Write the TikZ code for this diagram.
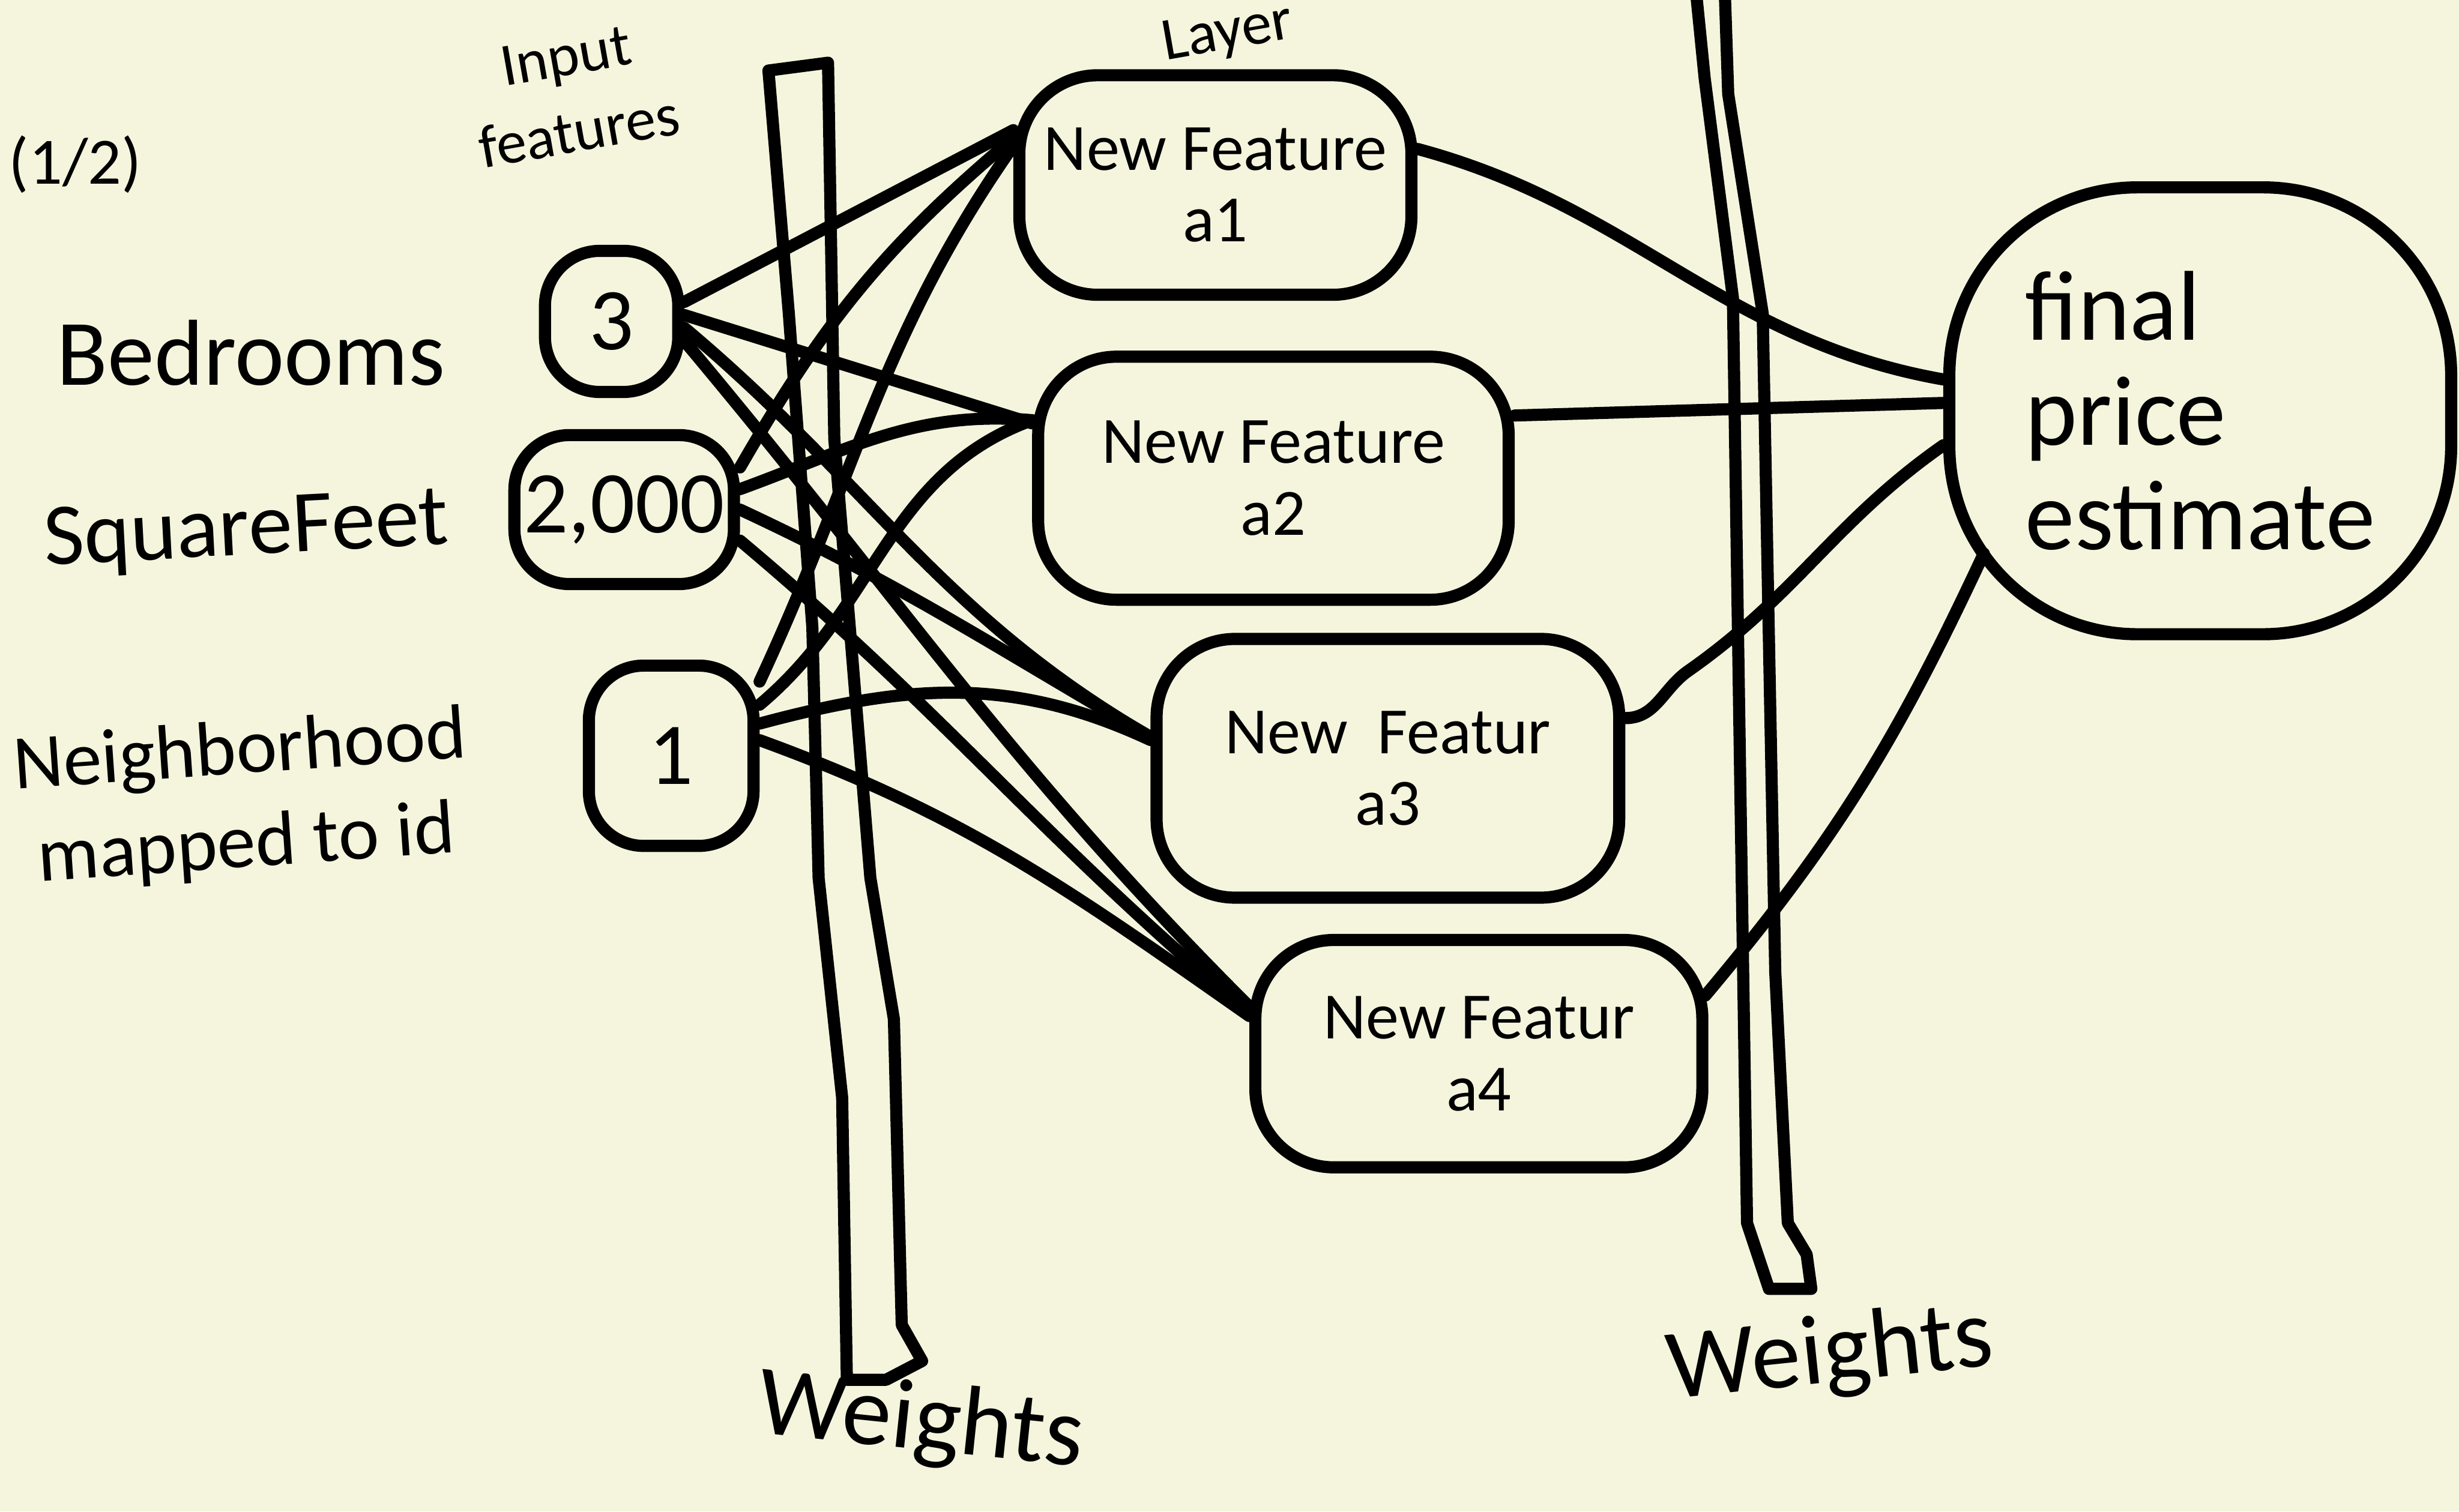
\documentclass[tikz,border=0pt]{standalone}
\usepackage{fontspec}
\setmainfont{Carlito}
\definecolor{paper}{HTML}{F4F5DC}
\tikzset{
  ink/.style={line width=2.2pt, line cap=round, line join=round, black},
  inbox/.style={ink, draw, rectangle, rounded corners=3.5mm, font=\fontsize{16}{16}\selectfont, inner sep=1pt},
  hidden/.style={ink, draw, rectangle, rounded corners=5mm, align=center, font=\fontsize{12}{13}\selectfont, inner sep=0pt},
  lbl/.style={font=\fontsize{17}{18}\selectfont, align=center, inner sep=0pt},
  conn/.style={ink}
}
\begin{document}
\begin{tikzpicture}[x=0.1mm,y=-0.1mm]
\useasboundingbox[fill=paper] (0,0) rectangle (1568,964);

% labels
\node[lbl, font=\fontsize{12}{12}\selectfont] (half) at (48,105) {(1/2)};
\node[lbl, font=\fontsize{11}{14}\selectfont, rotate=10] (infeat) at (365,60) {Input\\features};
\node[lbl, font=\fontsize{11}{11}\selectfont, rotate=10] (layer) at (783,22) {Layer};
\node[lbl, font=\fontsize{17}{17}\selectfont] (bed) at (160,225) {Bedrooms};
\node[lbl, font=\fontsize{16}{16}\selectfont, rotate=3] (sq) at (157,340) {SquareFeet};
\node[lbl, font=\fontsize{14}{17}\selectfont, rotate=4] (nb) at (155,510) {Neighborhood\\mapped to id};

% input nodes
\node[inbox, minimum width=8.5mm, minimum height=9mm] (n3) at (390,205) {3};
\node[inbox, minimum width=14mm, minimum height=9.5mm] (n2) at (398,325) {2,000};
\node[inbox, minimum width=10.5mm, minimum height=11.5mm] (n1) at (428,482) {1};

% hidden nodes
\node[hidden, minimum width=25mm, minimum height=14mm] (a1) at (775,118) {New Feature\\a1};
\node[hidden, minimum width=30mm, minimum height=15.5mm] (a2) at (812,305) {New Feature\\a2};
\node[hidden, minimum width=29.5mm, minimum height=16.5mm] (a3) at (885,490) {New \ Featur\\a3};
\node[hidden, minimum width=28.5mm, minimum height=14.5mm] (a4) at (943,672) {New Featur\\a4};

% final node
\node[ink, draw, rectangle, rounded corners=12mm, minimum width=32mm, minimum height=28.5mm, align=left,
      font=\fontsize{18}{19}\selectfont, inner sep=0pt] (fin) at (1403,262) {final\\price\\estimate};

% weights strips
\draw[ink] (490,45) -- (528,40) -- (532,280) -- (555,560) -- (570,650) -- (575,845) -- (588,868)
  -- (565,880) -- (540,880) -- (537,700) -- (522,560) -- (518,400) -- (503,200) -- cycle;
\draw[ink] (1082,0) -- (1087,50) -- (1105,190) -- (1110,520) -- (1114,780) -- (1128,822)
  -- (1155,822) -- (1152,800) -- (1140,780) -- (1132,620) -- (1124,200) -- (1102,60) -- (1100,0);
\node[lbl, font=\fontsize{18}{18}\selectfont, rotate=-6] (w1) at (587,908) {Weights};
\node[lbl, font=\fontsize{18}{18}\selectfont, rotate=6] (w2) at (1167,865) {Weights};

% input -> hidden connectors
\draw[conn] (n3.15) -- ([yshift=3.5mm]a1.west);
\draw[conn] (n3.5) -- ([yshift=3.5mm]a2.west);
\draw[conn] (n3.-5) to[out=-40, in=150] ([yshift=2mm]a3.west);
\draw[conn] (n3.-15) to[out=-50, in=135] ([yshift=3mm]a4.west);
\draw[conn] (n2.20) to[out=60, in=-140] ([yshift=3mm]a1.west);
\draw[conn] (n2.10) to[out=20, in=175] ([yshift=3.7mm]a2.west);
\draw[conn] (n2.0) to[out=-25, in=150] ([yshift=2mm]a3.west);
\draw[conn] (n2.-15) to[out=-40, in=140] ([yshift=2.6mm]a4.west);
\draw[conn] (n1.40) to[out=65, in=-125] ([yshift=2.5mm]a1.west);
\draw[conn] (n1.30) to[out=40, in=-160] ([yshift=3.7mm]a2.west);
\draw[conn] (n1.20) to[out=15, in=155] ([yshift=1.8mm]a3.west);
\draw[conn] (n1.10) to[out=-20, in=145] ([yshift=2.4mm]a4.west);

% hidden -> final connectors
\draw[conn] ([yshift=2.3mm]a1.east) to[out=-15, in=170] ([yshift=2mm]fin.west);
\draw[conn] ([yshift=4mm]a2.east) -- ([yshift=0.5mm]fin.west);
\draw[conn] ([yshift=3.2mm]a3.east) to[out=0, in=-145] ++(40,-30) to[out=35, in=-145] ([yshift=-2.2mm]fin.west);
\draw[conn] ([xshift=-0.2mm,yshift=3.7mm]a4.east) to[out=50, in=-115] ([shift={(-138,91)}]fin.center);
\end{tikzpicture}
\end{document}
